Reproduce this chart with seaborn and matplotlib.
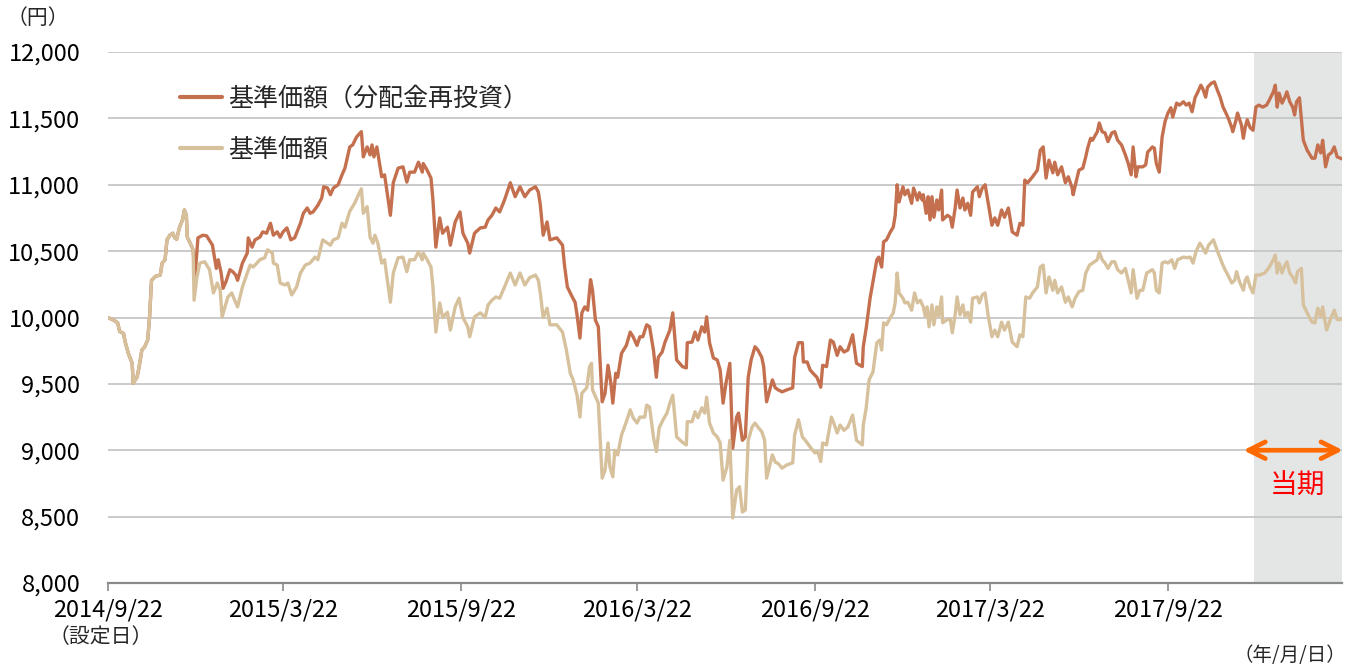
import matplotlib
matplotlib.use("Agg")
import matplotlib.pyplot as plt
import seaborn as sns
import pandas as pd
import numpy as np

# ---------------- data (days since inception 2014/9/22) ----------------
start_date = "2014-09-22"

launch_days = [0, 7, 10, 12, 16, 18, 21, 25, 26, 30, 32, 35, 38, 41, 43, 45, 49, 54, 56, 59,
               61, 64, 67, 69, 71, 74, 77, 79, 81, 82, 85, 88]
launch_vals = [10000, 9975, 9960, 9895, 9880, 9810, 9730, 9655, 9505, 9550, 9620, 9755, 9780, 9830,
               10005, 10280, 10310, 10320, 10410, 10435, 10585, 10620, 10635, 10600, 10590, 10680,
               10735, 10810, 10770, 10605, 10560, 10510]

nav_days = [
    89, 92, 95, 100, 105, 109, 113, 116, 118, 121,
    124, 128, 131, 134, 139, 144, 147, 150, 154, 157,
    162, 165, 170, 171, 175, 178, 183, 186, 190, 195,
    199, 204, 209, 214, 217, 222, 230, 233, 238, 242,
    245, 250, 255, 259, 262, 264, 268, 271, 274, 276,
    279, 283, 286, 292, 295, 300, 305, 309, 312, 317,
    321, 325, 326, 330, 334, 336, 339, 343, 346, 351,
    354, 359, 363, 367, 372, 374, 379, 385, 390, 393,
    397, 401, 405, 410, 416, 421, 426, 431, 436, 442,
    445, 447, 450, 454, 457, 464, 470, 474, 478, 481,
    485, 488, 490, 495, 498, 500, 501, 507, 511, 514,
    517, 519, 522, 524, 527, 531, 536, 540, 543, 547,
    550, 555, 557, 560, 564, 567, 570, 574, 578, 581,
    584, 588, 594, 598, 599, 604, 607, 610, 614, 617,
    619, 622, 626, 630, 633, 636, 640, 643, 646, 650,
    653, 656, 659, 662, 666, 669, 672, 676, 679, 681,
    687, 690, 693, 697, 702, 708, 710, 714, 718, 721,
    726, 731, 734, 737, 739, 743, 748, 750, 754, 757,
    761, 765, 770, 774, 780, 781, 784, 787, 791, 795,
    798, 800, 802, 805, 809, 812, 814, 816, 818, 822,
    824, 827, 831, 834, 837, 840, 843, 845, 847, 849,
    852, 854, 857, 859, 862, 863, 868, 871, 873, 876,
    878, 881, 884, 886, 889, 892, 894, 899, 901, 904,
    907, 910, 914, 917, 920, 924, 927, 931, 935, 940,
    943, 946, 949, 953, 956, 961, 964, 967, 970, 973,
    977, 979, 982, 986, 990, 993, 997, 1000, 1004, 1008,
    1011, 1015, 1018, 1023, 1025, 1028, 1031, 1034, 1038, 1041,
    1044, 1048, 1052, 1055, 1058, 1060, 1064, 1067, 1070, 1074,
    1080, 1082, 1084, 1087, 1090, 1093, 1096, 1100, 1103, 1106,
    1112, 1116, 1119, 1122, 1125, 1129, 1132, 1135, 1138, 1143,
    1145, 1148, 1152, 1155, 1158, 1162, 1165, 1167, 1170, 1174,
    1176, 1178, 1181, 1184, 1187, 1191, 1196, 1200, 1205, 1207,
    1209, 1211, 1214, 1217, 1219, 1222, 1225, 1228, 1230, 1234,
    1236, 1240, 1245, 1248, 1251, 1254, 1256, 1260, 1264, 1268,
    1271, 1276]
nav_vals = [
    10130, 10305, 10410, 10420, 10360, 10185, 10260, 10205, 10005, 10080,
    10155, 10185, 10130, 10080, 10230, 10335, 10395, 10380, 10410, 10435,
    10450, 10510, 10485, 10410, 10395, 10260, 10245, 10260, 10170, 10230,
    10335, 10395, 10410, 10455, 10435, 10585, 10545, 10585, 10600, 10710,
    10680, 10800, 10860, 10925, 10970, 10785, 10835, 10605, 10560, 10620,
    10560, 10410, 10435, 10115, 10335, 10450, 10455, 10345, 10435, 10435,
    10495, 10435, 10485, 10435, 10380, 10230, 9890, 10110, 10000, 10040,
    9905, 10080, 10145, 10000, 9930, 9855, 10005, 10035, 10000, 10095,
    10130, 10155, 10145, 10230, 10335, 10245, 10335, 10245, 10300, 10320,
    10280, 10185, 10000, 10070, 9945, 9945, 9890, 9755, 9580, 9530,
    9415, 9250, 9430, 9470, 9630, 9655, 9455, 9355, 8790, 8850,
    9055, 8875, 8800, 9000, 8965, 9115, 9215, 9305, 9245, 9205,
    9250, 9250, 9340, 9325, 9100, 8990, 9170, 9230, 9280, 9355,
    9415, 9100, 9060, 9040, 9215, 9215, 9290, 9245, 9320, 9280,
    9400, 9205, 9130, 9100, 9055, 8775, 8875, 9075, 8490, 8700,
    8725, 8535, 8550, 9075, 9175, 9205, 9175, 9140, 9075, 8790,
    8965, 8910, 8900, 8865, 8890, 8905, 9115, 9230, 9100, 9075,
    9025, 8980, 8990, 8915, 9055, 9040, 9250, 9215, 9130, 9190,
    9150, 9175, 9265, 9075, 9040, 9190, 9320, 9530, 9590, 9810,
    9830, 9755, 9960, 9945, 10000, 10035, 10115, 10335, 10185, 10145,
    10110, 10115, 10055, 10185, 10110, 10130, 10080, 10010, 10080, 9930,
    10095, 9945, 10080, 10010, 10155, 9960, 9985, 9985, 9885, 10020,
    10155, 10020, 10095, 10010, 10040, 9965, 10145, 10155, 10110, 10170,
    10185, 10020, 9855, 9905, 9855, 9965, 9905, 9965, 9815, 9780,
    9870, 9855, 10155, 10145, 10185, 10230, 10380, 10395, 10185, 10305,
    10205, 10280, 10185, 10230, 10115, 10155, 10080, 10145, 10195, 10205,
    10335, 10395, 10410, 10435, 10495, 10435, 10410, 10370, 10420, 10420,
    10360, 10335, 10370, 10280, 10185, 10360, 10145, 10205, 10205, 10335,
    10360, 10335, 10205, 10185, 10410, 10420, 10410, 10435, 10370, 10435,
    10455, 10450, 10455, 10410, 10495, 10560, 10525, 10485, 10545, 10585,
    10545, 10485, 10410, 10360, 10320, 10260, 10280, 10345, 10270, 10205,
    10280, 10305, 10230, 10185, 10320, 10320, 10335, 10370, 10435, 10470,
    10335, 10410, 10335, 10395, 10420, 10335, 10305, 10260, 10345, 10370,
    10095, 10035, 9965, 9960, 10070, 10005, 10080, 9905, 9985, 10055,
    9985, 9985]

reinv_days = [
    90, 93, 98, 102, 108, 110, 112, 114, 117, 119,
    122, 126, 129, 132, 134, 139, 144, 145, 149, 152,
    157, 160, 164, 168, 171, 175, 178, 181, 185, 189,
    193, 199, 202, 206, 209, 212, 217, 221, 223, 227,
    230, 233, 238, 242, 245, 250, 253, 257, 262, 264,
    268, 271, 273, 275, 278, 283, 286, 292, 295, 300,
    305, 309, 312, 317, 321, 325, 326, 330, 334, 336,
    339, 343, 346, 351, 354, 359, 364, 367, 372, 374,
    379, 385, 390, 393, 397, 401, 405, 410, 416, 421,
    426, 431, 436, 442, 445, 447, 450, 454, 457, 464,
    470, 472, 475, 480, 483, 485, 488, 490, 493, 496,
    499, 501, 504, 507, 511, 514, 517, 520, 522, 525,
    527, 531, 536, 540, 543, 547, 550, 553, 557, 560,
    564, 567, 569, 573, 576, 581, 584, 588, 594, 598,
    599, 604, 607, 610, 614, 617, 619, 622, 626, 630,
    633, 636, 639, 643, 646, 650, 652, 656, 659, 662,
    665, 669, 672, 676, 678, 681, 687, 690, 693, 697,
    702, 708, 710, 714, 718, 719, 723, 726, 729, 733,
    737, 739, 743, 747, 750, 754, 757, 761, 765, 770,
    774, 780, 781, 784, 786, 788, 791, 795, 797, 800,
    802, 805, 809, 812, 814, 816, 818, 822, 824, 827,
    831, 833, 837, 839, 842, 843, 846, 848, 850, 852,
    854, 857, 859, 862, 863, 868, 871, 873, 876, 878,
    881, 884, 886, 889, 892, 894, 899, 901, 904, 907,
    910, 914, 917, 920, 924, 927, 931, 935, 940, 943,
    946, 948, 951, 956, 961, 964, 967, 970, 973, 977,
    979, 982, 986, 990, 993, 997, 998, 1001, 1004, 1008,
    1011, 1013, 1016, 1018, 1023, 1025, 1028, 1031, 1034, 1038,
    1041, 1044, 1048, 1052, 1055, 1058, 1060, 1063, 1065, 1070,
    1073, 1075, 1080, 1082, 1084, 1087, 1090, 1093, 1096, 1099,
    1101, 1105, 1108, 1112, 1115, 1118, 1121, 1124, 1127, 1130,
    1132, 1135, 1137, 1141, 1144, 1147, 1150, 1153, 1156, 1159,
    1162, 1163, 1166, 1168, 1172, 1174, 1176, 1178, 1181, 1184,
    1187, 1190, 1194, 1198, 1201, 1205, 1207, 1209, 1211, 1214,
    1217, 1219, 1222, 1225, 1227, 1229, 1232, 1236, 1240, 1245,
    1248, 1251, 1254, 1256, 1259, 1262, 1265, 1268, 1271, 1276]
reinv_vals = [
    10310, 10600, 10620, 10615, 10545, 10455, 10370, 10435, 10335, 10220,
    10270, 10360, 10345, 10320, 10280, 10410, 10485, 10600, 10530, 10585,
    10605, 10645, 10635, 10710, 10620, 10645, 10605, 10645, 10675, 10585,
    10600, 10710, 10785, 10825, 10785, 10795, 10845, 10900, 10985, 10975,
    10925, 10975, 11000, 11075, 11125, 11285, 11300, 11360, 11400, 11210,
    11285, 11225, 11300, 11210, 11285, 11060, 11075, 10770, 11015, 11125,
    11135, 11020, 11095, 11095, 11170, 11095, 11160, 11110, 11050, 10885,
    10530, 10750, 10635, 10680, 10545, 10720, 10795, 10635, 10560, 10485,
    10635, 10675, 10680, 10735, 10770, 10825, 10795, 10885, 11015, 10910,
    10985, 10910, 10960, 10985, 10945, 10850, 10620, 10720, 10585, 10600,
    10545, 10395, 10230, 10155, 10115, 10020, 9845, 10035, 10080, 10055,
    10285, 10205, 9980, 9930, 9365, 9430, 9640, 9505, 9355, 9580,
    9550, 9730, 9790, 9890, 9855, 9790, 9855, 9855, 9945, 9930,
    9755, 9550, 9700, 9740, 9815, 9905, 10035, 9680, 9630, 9620,
    9810, 9815, 9890, 9830, 9930, 9890, 10005, 9810, 9695, 9680,
    9605, 9355, 9505, 9655, 9015, 9250, 9280, 9075, 9100, 9550,
    9680, 9780, 9755, 9700, 9630, 9365, 9530, 9470, 9455, 9440,
    9455, 9470, 9700, 9810, 9810, 9665, 9665, 9605, 9580, 9550,
    9475, 9640, 9630, 9830, 9815, 9715, 9780, 9740, 9755, 9870,
    9655, 9630, 9780, 9920, 10035, 10145, 10270, 10435, 10455, 10380,
    10570, 10585, 10645, 10680, 10770, 11000, 10870, 10985, 10925, 10960,
    10860, 10975, 10885, 10940, 10885, 10925, 10785, 10910, 10735, 10910,
    10755, 10885, 10810, 10960, 10735, 10770, 10755, 10680, 10825, 10960,
    10825, 10900, 10810, 10860, 10770, 10945, 10985, 10910, 10975, 11000,
    10870, 10695, 10750, 10695, 10810, 10755, 10825, 10645, 10620, 10710,
    10695, 11035, 11015, 11060, 11110, 11260, 11285, 11050, 11185, 11090,
    11170, 11075, 11135, 11015, 11060, 10975, 10925, 11020, 11110, 11125,
    11210, 11275, 11350, 11335, 11400, 11465, 11400, 11390, 11325, 11390,
    11400, 11335, 11300, 11225, 11160, 11075, 11285, 11060, 11135, 11135,
    11150, 11245, 11285, 11275, 11160, 11095, 11360, 11475, 11540, 11580,
    11510, 11615, 11600, 11625, 11600, 11615, 11550, 11655, 11700, 11750,
    11725, 11660, 11735, 11765, 11775, 11715, 11660, 11585, 11540, 11490,
    11430, 11400, 11475, 11540, 11450, 11350, 11435, 11490, 11430, 11410,
    11585, 11600, 11585, 11600, 11640, 11700, 11750, 11585, 11690, 11615,
    11660, 11700, 11625, 11585, 11525, 11625, 11655, 11335, 11260, 11200,
    11200, 11300, 11240, 11335, 11135, 11225, 11240, 11285, 11210, 11195]

series_labels = ["基準価額（分配金再投資）", "基準価額"]
tick_dates = ["2014-09-22", "2015-03-22", "2015-09-22", "2016-03-22",
              "2016-09-22", "2017-03-22", "2017-09-22"]
tick_labels = ["2014/9/22", "2015/3/22", "2015/9/22", "2016/3/22",
               "2016/9/22", "2017/3/22", "2017/9/22"]
y_ticks = [8000, 8500, 9000, 9500, 10000, 10500, 11000, 11500, 12000]
period_start_day = 1185
period_end_day = 1276
x_end_day = 1276

# ---------------- build frames ----------------
t0 = pd.Timestamp(start_date)
def to_dates(days):
    return t0 + pd.to_timedelta(np.array(days), unit="D")

df_re = pd.DataFrame({"date": to_dates(launch_days + reinv_days),
                      "value": launch_vals + reinv_vals})
df_nav = pd.DataFrame({"date": to_dates(launch_days + nav_days),
                       "value": launch_vals + nav_vals})

# ---------------- style ----------------
sns.set_theme(style="white")
plt.rcParams["font.family"] = ["Noto Sans CJK JP", "DejaVu Sans"]

C_RE = "#c4704f"
C_NAV = "#d6c19c"

fig = plt.figure(figsize=(13.63, 6.68), dpi=100)
ax = fig.add_axes([108 / 1363, 1 - 583 / 668, (1342 - 108) / 1363, (583 - 52) / 668])

ax.axvspan(to_dates([period_start_day])[0], to_dates([period_end_day])[0],
           color="#e4e6e6", zorder=0, lw=0)

sns.lineplot(data=df_re, x="date", y="value", ax=ax, color=C_RE, lw=2.4,
             label=series_labels[0], zorder=3)
sns.lineplot(data=df_nav, x="date", y="value", ax=ax, color=C_NAV, lw=2.4,
             label=series_labels[1], zorder=4)

ax.set_xlim(t0, to_dates([x_end_day])[0])
ax.set_ylim(8000, 12000)
ax.set_xlabel("")
ax.set_ylabel("")

ax.set_yticks(y_ticks)
ax.set_yticklabels([f"{v:,}" for v in y_ticks])
ax.set_xticks(pd.to_datetime(tick_dates))
ax.set_xticklabels(tick_labels)

ax.set_axisbelow(True)
ax.yaxis.grid(True, color="#c6c6c6", lw=1.3)
ax.xaxis.grid(False)

for s in ["left", "top", "right"]:
    ax.spines[s].set_visible(False)
ax.spines["bottom"].set_color("#8a8a8a")
ax.spines["bottom"].set_linewidth(1.6)
ax.spines["bottom"].set_zorder(5)

ax.tick_params(axis="y", length=0, pad=20, labelsize=17, labelcolor="black")
ax.tick_params(axis="x", length=6, width=1.2, color="#8a8a8a", pad=5,
               labelsize=17, labelcolor="black", direction="out", bottom=True)

leg = ax.legend(loc="upper left", bbox_to_anchor=(0.058, 0.937), frameon=False,
                fontsize=18, handlelength=1.7, handletextpad=0.25, labelspacing=1.0,
                borderpad=0, borderaxespad=0)
for line in leg.get_lines():
    line.set_linewidth(3)

# period arrow and label
ax.annotate("", xy=(to_dates([period_end_day + 1])[0], 9000),
            xytext=(to_dates([period_start_day - 11])[0], 9000),
            arrowprops=dict(arrowstyle="<->", color="#ff6a00", lw=3.4, mutation_scale=30,
                            shrinkA=0, shrinkB=0),
            annotation_clip=False, zorder=6)
ax.text(to_dates([(period_start_day + period_end_day) // 2])[0], 8730, "当期",
        color="#ff0000", fontsize=20, ha="center", va="center", zorder=6)

fig.text(38 / 1363, 1 - 18 / 668, "（円）", ha="center", va="center", fontsize=15)
fig.text(101 / 1363, 1 - 637 / 668, "（設定日）", ha="center", va="center", fontsize=15)
fig.text(1290 / 1363, 1 - 655 / 668, "（年/月/日）", ha="center", va="center", fontsize=14)

fig.savefig("out.png", dpi=100)
